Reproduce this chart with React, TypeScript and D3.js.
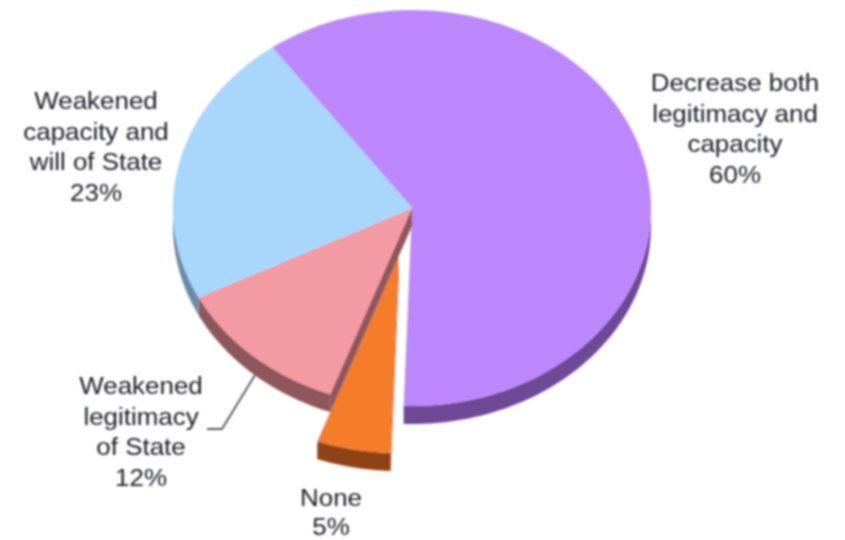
import { useMemo } from "react";
import * as d3 from "d3";

const categories = ["Decrease both legitimacy and capacity", "None", "Weakened legitimacy of State", "Weakened capacity and will of State"];
const values = [60.5, 5, 12, 22.5];
const topColors = ["#BD87FC", "#F57D2A", "#F49AA2", "#A8D6FC"];
const sideColors = ["#6E4A96", "#8F4213", "#8F575B", "#6A8BA8"];
const labelLines = [
  ["Decrease both", "legitimacy and", "capacity", "60%"],
  ["None", "5%"],
  ["Weakened", "legitimacy", "of State", "12%"],
  ["Weakened", "capacity and", "will of State", "23%"],
];
const labelX = [735, 331, 141, 96];
const labelTop = [91, 506, 394, 109];
const lineGap = [30.5, 28.5, 30.5, 30.5];
const explode = [[0, 0], [-13, 47], [0, 0], [0, 0]];
const hasCutFace = [false, true, true, false];

const width = 845;
const height = 540;
const cx = 412;
const cy = 208;
const rx = 239;
const ry = 198;
const depth = 18;
const startAngle = (-35.8 * Math.PI) / 180;
const textStretch = 1.08;

export default function App() {
  const slices = useMemo(
    () =>
      d3.pie<number>().sort(null).startAngle(startAngle).endAngle(startAngle + Math.PI * 2)(values),
    []
  );
  const sx = d3.scaleLinear().domain([-1, 1]).range([-rx, rx]);
  const sy = d3.scaleLinear().domain([-1, 1]).range([-ry, ry]);
  const rim = (a: number): [number, number] => [sx(Math.sin(a)), sy(-Math.cos(a))];
  const line = d3.line();

  // side wall: the part of the rim that faces the viewer, pushed down by depth
  const wall = (a0: number, a1: number) => {
    const lo = Math.max(a0, Math.PI / 2);
    const hi = Math.min(a1, (Math.PI * 3) / 2);
    if (hi <= lo) return null;
    const pts = d3.range(0, 61).map((i) => rim(lo + ((hi - lo) * i) / 60));
    const low = pts.map(([x, y]) => [x, y + depth] as [number, number]).reverse();
    return line([...pts, ...low]) + "Z";
  };
  // cut face on the slice's right-hand edge
  const cutFace = (a: number) => {
    const [x, y] = rim(a);
    return line([[0, 0], [x, y], [x, y + depth], [0, depth]]) + "Z";
  };
  const top = (a0: number, a1: number) => {
    const pts = d3.range(0, 121).map((i) => rim(a0 + ((a1 - a0) * i) / 120));
    return line([[0, 0], ...pts]) + "Z";
  };

  return (
    <svg
      width={width}
      height={height}
      viewBox={`0 0 ${width} ${height}`}
      style={{ position: "absolute", left: 0, top: 0, background: "#fff" }}
      fontFamily="'Liberation Sans', Arial, sans-serif"
    >
      <defs>
        <filter id="soft" x="-5%" y="-5%" width="110%" height="110%">
          <feGaussianBlur stdDeviation="0.8" />
        </filter>
      </defs>
      <g filter="url(#soft)">
        {slices.map((s, i) => {
          const w = wall(s.startAngle, s.endAngle);
          const [dx, dy] = explode[i];
          return (
            <g key={categories[i]} transform={`translate(${cx + dx},${cy + dy})`}>
              {i === 1 && <path d={top(s.startAngle, s.endAngle)} fill="#fff" stroke="#fff" strokeWidth={3} />}
              {hasCutFace[i] && <path d={cutFace(s.startAngle)} fill={sideColors[i]} />}
              {w && <path d={w} fill={sideColors[i]} />}
              <path d={top(s.startAngle, s.endAngle)} fill={topColors[i]} />
            </g>
          );
        })}
        <path d="M255,375L222,429L207,429" fill="none" stroke="#555" strokeWidth={1.8} />
        {labelLines.map((lines, i) =>
          lines.map((t, j) => (
            <text
              key={t + j}
              textAnchor="middle"
              fontSize={24}
              fill="#1c1c28"
              transform={`translate(${labelX[i]},${labelTop[i] + j * lineGap[i]}) scale(${textStretch},1)`}
            >
              {t}
            </text>
          ))
        )}
      </g>
    </svg>
  );
}
